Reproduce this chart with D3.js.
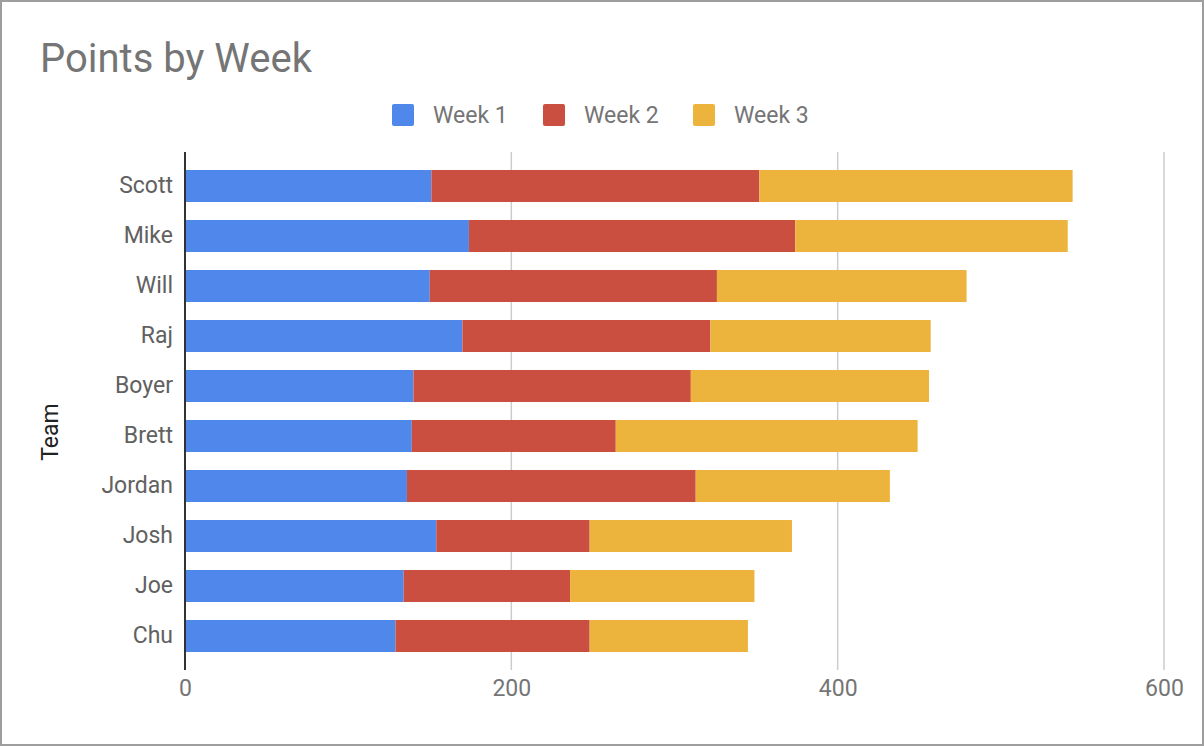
<!DOCTYPE html>
<html>
<head>
<meta charset="utf-8">
<script src="https://cdn.jsdelivr.net/npm/d3@7"></script>
<style>
  html, body { margin: 0; padding: 0; background: #fff; }
  svg { display: block; font-family: Roboto, "Noto Sans", sans-serif; }
</style>
</head>
<body>
<div id="chart"></div>
<script>
const teams = ['Scott', 'Mike', 'Will', 'Raj', 'Boyer', 'Brett', 'Jordan', 'Josh', 'Joe', 'Chu'];
const week1 = [151, 174, 150, 170, 140, 139, 136, 154, 134, 129];
const week2 = [201, 200, 176, 152, 170, 125, 177, 94, 102, 119];
const week3 = [192, 167, 153, 135, 146, 185, 119, 124, 113, 97];
const seriesNames = ['Week 1', 'Week 2', 'Week 3'];
const colors = ['#4f87ea', '#cb4f41', '#ecb43c'];
const xTicks = [0, 200, 400, 600];

const width = 1204, height = 746;
const margin = {t: 152, r: 40, b: 76, l: 185};

const svg = d3.select('#chart').append('svg')
  .attr('width', width).attr('height', height);

// outer frame
svg.append('rect')
  .attr('x', 1).attr('y', 1)
  .attr('width', width - 2).attr('height', height - 2)
  .attr('fill', '#fff').attr('stroke', '#9e9e9e').attr('stroke-width', 2);

const x = d3.scaleLinear().domain([0, 600]).range([margin.l, 1164]);
const y = d3.scaleBand().domain(teams).range([161, 661])
  .paddingInner(0.36).paddingOuter(0.18);

// title
svg.append('text')
  .attr('x', 40).attr('y', 72)
  .attr('font-size', 40).attr('fill', '#757575')
  .text('Points by Week');

// legend
const legendX = [392, 543, 693];
const legend = svg.append('g').selectAll('g')
  .data(seriesNames).join('g')
  .attr('transform', (d, i) => `translate(${legendX[i]}, 104)`);
legend.append('rect')
  .attr('width', 22).attr('height', 22).attr('rx', 2)
  .attr('fill', (d, i) => colors[i]);
legend.append('text')
  .attr('x', 41).attr('y', 19)
  .attr('font-size', 23).attr('fill', '#757575')
  .text(d => d);

// gridlines
svg.append('g').selectAll('line')
  .data(xTicks.slice(1)).join('line')
  .attr('x1', d => x(d)).attr('x2', d => x(d))
  .attr('y1', margin.t).attr('y2', height - margin.b)
  .attr('stroke', '#cccccc').attr('stroke-width', 1.5);

// x tick labels
const xAxis = svg.append('g')
  .attr('transform', `translate(0, ${height - margin.b})`)
  .call(d3.axisBottom(x).tickValues(xTicks).tickSize(0).tickPadding(10));
xAxis.select('.domain').remove();
xAxis.selectAll('text')
  .attr('font-size', 23).attr('fill', '#757575')
  .attr('font-family', 'Roboto, sans-serif');

// stacked bars
const rows = teams.map((t, i) => ({team: t, w1: week1[i], w2: week2[i], w3: week3[i]}));
const stack = d3.stack().keys(['w1', 'w2', 'w3'])(rows);

svg.append('g').selectAll('g')
  .data(stack).join('g')
  .attr('fill', (d, i) => colors[i])
  .selectAll('rect')
  .data(d => d).join('rect')
  .attr('x', d => x(d[0]))
  .attr('y', d => y(d.data.team))
  .attr('width', d => x(d[1]) - x(d[0]))
  .attr('height', y.bandwidth());

// y labels
const yAxis = svg.append('g')
  .attr('transform', `translate(${margin.l}, 0)`)
  .call(d3.axisLeft(y).tickSize(0).tickPadding(12));
yAxis.select('.domain').remove();
yAxis.selectAll('text')
  .attr('font-size', 23).attr('fill', '#616161')
  .attr('font-family', 'Roboto, sans-serif');

// baseline
svg.append('line')
  .attr('x1', x(0)).attr('x2', x(0))
  .attr('y1', margin.t).attr('y2', height - margin.b)
  .attr('stroke', '#333').attr('stroke-width', 2);

// axis title
svg.append('text')
  .attr('transform', 'translate(58, 432) rotate(-90)')
  .attr('text-anchor', 'middle')
  .attr('font-size', 23).attr('fill', '#222')
  .text('Team');
</script>
</body>
</html>
